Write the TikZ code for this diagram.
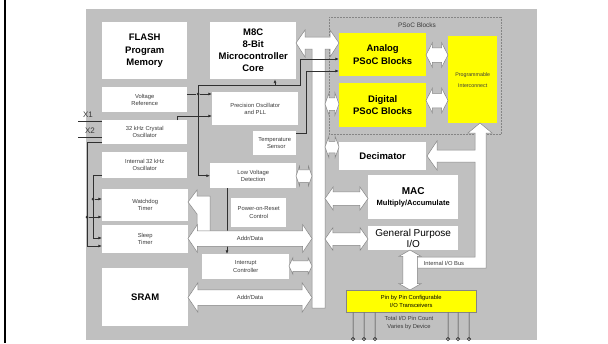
\documentclass[tikz,border=0pt]{standalone}
\usepackage{fontspec}
\setmainfont{Liberation Sans}
\usetikzlibrary{shapes.arrows,arrows.meta}

\definecolor{panel}{HTML}{C0C0C0}
\definecolor{wiregray}{HTML}{303030}
\definecolor{edgegray}{HTML}{858585}
\definecolor{labelgray}{HTML}{3A3A3A}
\definecolor{psocyellow}{HTML}{FFFF00}

\tikzset{
  blk/.style={fill=white, inner sep=0pt, align=center, anchor=north west, text=labelgray,
    font=\fontsize{5.8}{7.4}\selectfont},
  bigblk/.style={blk, text=black, font=\bfseries\fontsize{9.5}{12.5}\selectfont},
  ylw/.style={blk, fill=psocyellow},
  wire/.style={draw=wiregray, line width=0.6pt},
  dot/.style={circle, fill=wiregray, inner sep=0pt, minimum size=3pt},
  fatline/.style={draw=edgegray, fill=white, line width=0.5pt, line join=miter},
  fat/.style={double arrow, fatline, inner xsep=0pt, double arrow tip angle=115,
    text height=0pt, text depth=0pt, minimum width=0pt},
  buslbl/.style={text=labelgray, font=\fontsize{5.8}{7}\selectfont},
}

\begin{document}
\begin{tikzpicture}[x=1pt, y=-1pt, >={Latex[length=3.6pt,width=2.8pt]}]
\useasboundingbox (0,0) rectangle (608,343);
\fill[white] (0,0) rectangle (608,343);
\draw[line width=2pt] (5,0) -- (5,343);
\fill[panel] (86,9) rectangle (537,340);

% left column
\node[bigblk, minimum width=85, minimum height=57] (flash) at (102,22) {FLASH\\Program\\Memory};
\node[blk, minimum width=85, minimum height=25] (vref) at (102,87) {Voltage\\Reference};
\node[blk, minimum width=85, minimum height=24] (xtal) at (102,120) {32 kHz Crystal\\Oscillator};
\node[blk, minimum width=85, minimum height=26] (iosc) at (102,152) {Internal 32 kHz\\Oscillator};
\node[blk, minimum width=86, minimum height=32] (wdt) at (102,189) {Watchdog\\Timer};
\node[blk, minimum width=86, minimum height=28] (sleep) at (102,225) {Sleep\\Timer};
\node[bigblk, minimum width=86, minimum height=58] (sram) at (102,268) {SRAM};

% middle column
\node[bigblk, minimum width=86, minimum height=57, font=\bfseries\fontsize{9.5}{12}\selectfont] (m8c) at (210,22) {M8C\\8-Bit\\Microcontroller\\Core};
\node[blk, minimum width=86, minimum height=33] (pll) at (212,92) {Precision Oscillator\\and PLL};
\node[blk, minimum width=43, minimum height=24] (temp) at (253,131) {Temperature\\\ \ Sensor};
\node[blk, minimum width=86, minimum height=25] (lvd) at (210,163) {Low Voltage\\Detection};
\node[blk, minimum width=55, minimum height=29] (por) at (231,198) {Power-on-Reset\\Control};
\node[blk, minimum width=87, minimum height=25] (intc) at (202,254) {Interrupt\\Controller};

% right column
\draw[edgegray, densely dotted, line width=0.5pt] (329,17) rectangle (501,134);
\node[text=labelgray, font=\fontsize{6.5}{8}\selectfont] (psoclbl) at (417,25) {PSoC Blocks};
\node[ylw, text=black, minimum width=87, minimum height=43, font=\bfseries\fontsize{9.5}{12.5}\selectfont] (analog) at (339,33) {Analog\\PSoC Blocks};
\node[ylw, text=black, minimum width=87, minimum height=44, font=\bfseries\fontsize{9.5}{12.5}\selectfont] (digital) at (339,83) {Digital\\PSoC Blocks};
\node[ylw, minimum width=49, minimum height=87, font=\fontsize{5.3}{11}\selectfont] (pic) at (448,36) {Programmable\\Interconnect};
\node[bigblk, minimum width=87, minimum height=28] (dec) at (339,142) {Decimator};
\node[bigblk, minimum width=90, minimum height=44, font=\bfseries\fontsize{10}{11}\selectfont] (mac) at (368,175) {MAC\\{\fontsize{7.5}{9}\selectfont Multiply/Accumulate}};
\node[blk, text=black, minimum width=90, minimum height=24, font=\fontsize{10}{11.5}\selectfont] (gpio) at (368,226) {General Purpose\\I/O};
\node[ylw, draw=edgegray, line width=0.5pt, minimum width=130, minimum height=22, text=black] (trx) at (346,290) {Pin by Pin Configurable\\I/O Transceivers};
\node[text=labelgray, align=center, font=\fontsize{5.8}{7.6}\selectfont] (pincount) at (409,323) {Total I/O Pin Count\\Varies by Device};

% system bus
\draw[fatline] (296,43) -- (305,30) -- (305,37) -- (330,37) -- (330,30) -- (339,43)
  -- (330,57) -- (330,49) -- (325,49) -- (325,308) -- (312,308) -- (312,49)
  -- (305,49) -- (305,57) -- cycle;

% internal I/O bus
\draw[fatline] (480,123) -- (492,133) -- (486,133) -- (486,268) -- (417,268) -- (417,257)
  -- (475,257) -- (475,162) -- (437,162) -- (437,170) -- (427,156) -- (437,141)
  -- (437,150) -- (475,150) -- (475,133) -- (468,133) -- cycle;
\node[buslbl] (iobuslbl) at (444,263) {Internal I/O Bus};

% clock and reference wires
\node[text=labelgray, font=\fontsize{8}{9}\selectfont] (x1) at (88,115) {X1};
\node[text=labelgray, font=\fontsize{8}{9}\selectfont] (x2) at (90,131) {X2};
\coordinate (x1pin) at (78,121);
\coordinate (x2pin) at (78,137);
\draw[wire] (x1pin) -- (xtal.west |- x1pin);
\draw[wire] (x2pin) -- (xtal.west |- x2pin);

\draw[wire,->] (xtal.west |- 0,142) -- (87,142) -- (87,246) -- (sleep.west |- 0,246);
\node[dot] (jx) at (87,217) {};
\draw[wire,->] (jx) -- (wdt.west |- jx);
\draw[wire,->] (iosc.west |- 0,175) -- (93,175) -- (93,238) -- (sleep.west |- 0,238);
\node[dot] (ji) at (93,199) {};
\draw[wire,->] (ji) -- (wdt.west |- ji);

\draw[wire,->] (xtal.north -| 177,0) -- (177,116) -- (pll.west |- 0,116);
\node[dot] (jv) at (198,94) {};
\draw[wire] (vref.east |- jv) -- (jv);
\draw[wire,->] (jv) -- (pll.west |- jv);
\draw[wire,->] (198,85) -- (lvd.west -| 198,0) -- (lvd.west);
\draw[wire,->] (198,85) -- (300,85) -- (300,59) -- (analog.west |- 0,59);
\draw[wire,->] (275,85) -- (m8c.south -| 275,0);
\draw[wire,->] (temp.east |- 0,133) -- (306,133) -- (306,71) -- (analog.west |- 0,71);
\draw[wire,->] (lvd.south -| 227,0) -- (intc.north -| 227,0);

% watchdog branch of the bus
\draw[fatline] (188,202) -- (197,190) -- (197,196) -- (210,196) -- (210,233)
  -- (197,233) -- (197,214) -- cycle;

% data paths (inner ysep = half shaft)
\node[fat, minimum height=124, inner ysep=7.5, double arrow head extend=6, double arrow tip angle=112] (addr1) at (250,238.5) {};
\node[buslbl] at (addr1.center) {Addr/Data};
\node[fat, minimum height=124, inner ysep=7.5, double arrow head extend=7, double arrow tip angle=112] (addr2) at (250,297.5) {};
\node[buslbl] at (addr2.center) {Addr/Data};
\node[fat, minimum height=23, inner ysep=5, double arrow head extend=3, double arrow tip angle=130] (intbus) at (300.5,266) {};
\node[fat, minimum height=16, inner ysep=6, double arrow head extend=3.5, double arrow tip angle=140] (lvdbus) at (304,176) {};
\node[fat, minimum height=14, inner ysep=6, double arrow head extend=5, double arrow tip angle=140] (digbus) at (332,104) {};
\node[fat, minimum height=14, inner ysep=5.5, double arrow head extend=5, double arrow tip angle=140] (decbus) at (332,147) {};
\node[fat, minimum height=43, inner ysep=6.5, double arrow head extend=5, double arrow tip angle=110] (macbus) at (346.5,198.5) {};
\node[fat, minimum height=43, inner ysep=6, double arrow head extend=5, double arrow tip angle=110] (gpiobus) at (346.5,239) {};
\node[fat, minimum height=22, inner ysep=7, double arrow head extend=5, double arrow tip angle=125] (anapic) at (437,55) {};
\node[fat, minimum height=22, inner ysep=7, double arrow head extend=5, double arrow tip angle=125] (digpic) at (437,100.5) {};
\node[fat, rotate=90, minimum height=40, inner ysep=7, double arrow head extend=4, double arrow tip angle=120] (gpiotrx) at (410,270) {};

% pins
\foreach \px in {353,364,375,448,458,469}
  \draw[wire, line width=0.5pt] (trx.south -| \px,0) -- (\px,339) circle[radius=1.8];
\end{tikzpicture}
\end{document}
